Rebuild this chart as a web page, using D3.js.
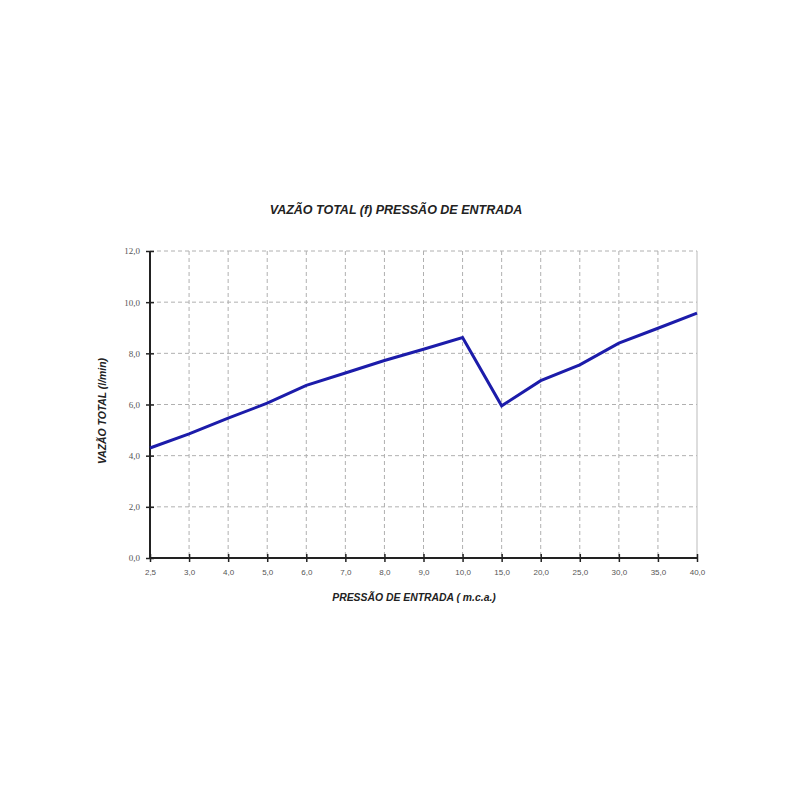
<!DOCTYPE html>
<html><head><meta charset="utf-8">
<script src="https://cdn.jsdelivr.net/npm/d3@7"></script>
<style>body{margin:0;background:#fff}</style>
</head><body>
<script>
const categories = ["2,5","3,0","4,0","5,0","6,0","7,0","8,0","9,0","10,0","15,0","20,0","25,0","30,0","35,0","40,0"];
const flowValues = [4.30,4.85,5.47,6.05,6.75,7.23,7.72,8.16,8.62,5.95,6.93,7.55,8.40,8.98,9.57];
const yTicks = [0,2,4,6,8,10,12];
const title = "VAZÃO TOTAL (f) PRESSÃO DE ENTRADA";
const xLabel = "PRESSÃO DE ENTRADA ( m.c.a.)";
const yLabel = "VAZÃO TOTAL (l/min)";

const W=800,H=800, L=150, R=697, T=251, B=558;
const svg=d3.select("body").append("svg").attr("width",W).attr("height",H);
const x=d3.scalePoint().domain(categories).range([L,R]);
const y=d3.scaleLinear().domain([0,12]).range([B,T]);

// grid
svg.append("g").selectAll("line").data(yTicks.filter(d=>d>0)).join("line")
  .attr("x1",L).attr("x2",R).attr("y1",d=>y(d)).attr("y2",d=>y(d))
  .attr("stroke","#b0b0b0").attr("stroke-width",1).attr("stroke-dasharray","4,3");
svg.append("g").selectAll("line").data(categories.slice(1,-1)).join("line")
  .attr("x1",d=>x(d)).attr("x2",d=>x(d)).attr("y1",T).attr("y2",B)
  .attr("stroke","#b0b0b0").attr("stroke-width",1).attr("stroke-dasharray","4,3");
svg.append("line").attr("x1",R).attr("x2",R).attr("y1",T).attr("y2",B)
  .attr("stroke","#bbb").attr("stroke-width",1);

// axes
const xAxis=svg.append("g").attr("transform",`translate(0,${B})`)
  .call(d3.axisBottom(x).tickSizeInner(4).tickSizeOuter(0).tickPadding(7));
xAxis.select(".domain").attr("stroke","#222").attr("stroke-width",2).attr("d",`M${L},0H${R}`);
xAxis.selectAll(".tick line").attr("y1",-4).attr("y2",4).attr("stroke","#222").attr("stroke-width",1.5);
xAxis.selectAll("text").attr("font-family","Liberation Sans, Arial, sans-serif").attr("font-size",8).attr("fill","#555");

const yAxis=svg.append("g").attr("transform",`translate(${L},0)`)
  .call(d3.axisLeft(y).tickValues(yTicks).tickFormat(d=>d3.format(".1f")(d).replace(".",",")).tickSizeInner(4).tickSizeOuter(0).tickPadding(6));
yAxis.select(".domain").attr("stroke","#222").attr("stroke-width",2).attr("d",`M0,${B}V${T}`);
yAxis.selectAll(".tick line").attr("x1",-4).attr("x2",4).attr("stroke","#222").attr("stroke-width",1.5);
yAxis.selectAll("text").attr("font-family","Liberation Serif, Times New Roman, serif").attr("font-size",9).attr("fill","#555");

// line
svg.append("path").datum(flowValues)
  .attr("d",d3.line().x((d,i)=>x(categories[i])).y(d=>y(d)))
  .attr("fill","none").attr("stroke","#1c1caa").attr("stroke-width",3).attr("stroke-linejoin","miter");

// texts
svg.append("text").attr("x",396).attr("y",214).attr("text-anchor","middle")
  .attr("font-family","Liberation Sans, Arial, sans-serif").attr("font-weight","bold").attr("font-style","italic")
  .attr("font-size",12.5).attr("fill","#222").text(title);
svg.append("text").attr("x",414).attr("y",601).attr("text-anchor","middle")
  .attr("font-family","Liberation Sans, Arial, sans-serif").attr("font-weight","bold").attr("font-style","italic")
  .attr("font-size",10.4).attr("fill","#222").text(xLabel);
svg.append("text").attr("transform","translate(106,411) rotate(-90)").attr("text-anchor","middle")
  .attr("font-family","Liberation Sans, Arial, sans-serif").attr("font-weight","bold").attr("font-style","italic")
  .attr("font-size",10.4).attr("fill","#222").text(yLabel);
</script>
</body></html>
